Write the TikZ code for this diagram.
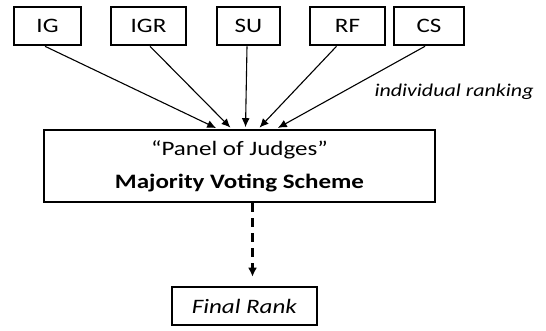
\documentclass[tikz,border=0pt]{standalone}
\usepackage{fontspec}
\setmainfont{Carlito}[FakeStretch=1.22]
\usetikzlibrary{arrows.meta}

\begin{document}
\begin{tikzpicture}[x=1pt, y=-1pt, every node/.style={font=\fontsize{20.5}{33}\selectfont}]
\useasboundingbox (0,0) rectangle (546,331);
\node[draw, line width=2.6pt, minimum width=67pt, minimum height=38pt](ig) at(47.5, 26){IG};
\node[draw, line width=2.6pt, minimum width=75pt, minimum height=38pt](igr) at(148.5, 26){IGR};
\node[draw, line width=2.6pt, minimum width=63pt, minimum height=38pt](su) at(248.5, 26){SU};
\node[draw, line width=2.6pt, minimum width=75pt, minimum height=38pt](rf) at(347.5, 26){RF};
\node[draw, line width=2.6pt, minimum width=70pt, minimum height=38pt](cs) at(429, 26){CS};
\node[draw, line width=2.6pt, minimum width=391pt, minimum height=72pt, align=center](vote) at(239.5, 166){``Panel of Judges''\\\textbf{Majority Voting Scheme}};
\node[draw, line width=2.6pt, minimum width=145pt, minimum height=38pt](rank) at(244.5, 306){\textit{Final Rank}};
\node[anchor=west, font=\fontsize{18}{20}\selectfont\itshape](ind) at(371, 92){individual ranking};
\draw[-{Latex[length=9pt,width=8pt]}, line width=1.1pt, shorten >=1.5pt]([xshift=-2.5pt]ig.south)--([xshift=-22pt]vote.north);
\draw[-{Latex[length=9pt,width=8pt]}, line width=1.1pt, shorten >=1.5pt]([xshift=1.5pt]igr.south)--([xshift=-8pt]vote.north);
\draw[-{Latex[length=9pt,width=8pt]}, line width=1.1pt, shorten >=1.5pt]([xshift=-1.5pt]su.south)--([xshift=6pt]vote.north);
\draw[-{Latex[length=9pt,width=8pt]}, line width=1.1pt, shorten >=1.5pt]([xshift=-11pt]rf.south)--([xshift=19pt]vote.north);
\draw[-{Latex[length=9pt,width=8pt]}, line width=1.1pt, shorten >=1.5pt]([xshift=-4pt]cs.south)--([xshift=37pt]vote.north);
\draw[-{Latex[length=9pt,width=9pt]}, line width=2.6pt, dash pattern=on 9pt off 6pt, shorten >=9pt]([xshift=13pt]vote.south)--([xshift=8pt]rank.north);
\end{tikzpicture}
\end{document}
